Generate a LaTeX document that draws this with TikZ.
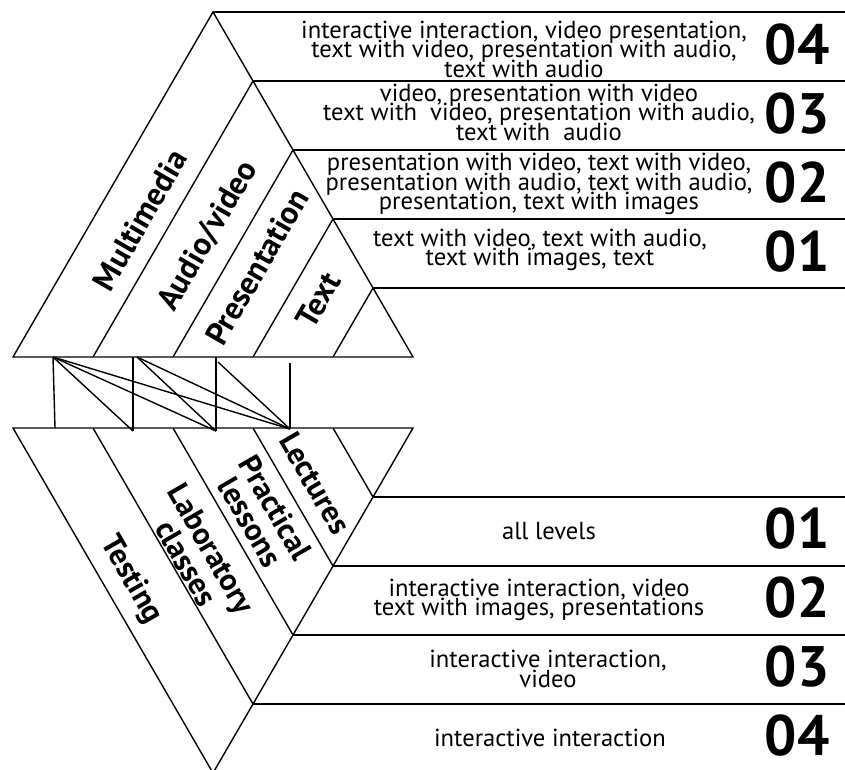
\documentclass[tikz,border=0pt]{standalone}
\usepackage{fontspec}
\setmainfont{PT Sans}
\begin{document}
\setlength{\lineskiplimit}{-100pt}%
\begin{tikzpicture}[x=1pt,y=-1pt,line width=1.4pt,line join=miter,
  bandtxt/.style={font=\fontsize{24.6}{19.5}\selectfont, align=center, inner sep=0pt},
  numtxt/.style={font=\bfseries\fontsize{57}{57}\selectfont, inner sep=0pt, anchor=west},
  toplab/.style={font=\bfseries\fontsize{32}{29}\selectfont, align=center, rotate=60, inner sep=0pt},
  botlab/.style={font=\bfseries\fontsize{31}{29}\selectfont, align=center, rotate=-60, inner sep=0pt}]
\useasboundingbox (0,0) rectangle (845,769);

% ---------- top triangle ----------
\coordinate (TA) at (213,12);
\coordinate (TL) at (13,357);
\coordinate (TR) at (413,357);
\draw (TL) -- (TA) -- (TR) -- cycle;
\foreach \k in {1,...,4}{
  \coordinate (TB\k) at ({13+80*\k},357);
  \coordinate (TE\k) at ({213+40*\k},{12+69*\k});
  \coordinate (TX\k) at (845,{12+69*\k});
  \draw (TB\k) -- (TE\k);
  \draw (TE\k) -- (TX\k);
}
\coordinate (TX0) at (845,12);
\draw (TA) -- (TX0);

% ---------- bottom triangle ----------
\coordinate (BA) at (213,773);
\coordinate (BL) at (13,428);
\coordinate (BR) at (413,428);
\draw (BL) -- (BA) -- (BR) -- cycle;
\foreach \k in {1,...,4}{
  \coordinate (BB\k) at ({13+80*\k},428);
  \coordinate (BE\k) at ({213+40*\k},{428+69*(5-\k)});
  \coordinate (BX\k) at (845,{428+69*(5-\k)});
  \draw (BB\k) -- (BE\k);
  \draw (BE\k) -- (BX\k);
}

% ---------- labels in triangles ----------
\node[toplab] (mm) at (140,220) {Multimedia};
\node[toplab] (av) at (208,236) {Audio/video};
\node[toplab] (pr) at (257,267) {Presentation};
\node[toplab] (tx) at (318,300) {Text};

\node[botlab] (le) at (315,483) {Lectures};
\node[botlab] (pl) at (263,515) {Practical\\lessons};
\node[botlab] (lc) at (199,556) {Laboratory\\classes};
\node[botlab] (te) at (131,580) {Testing};

% ---------- connectors ----------
\coordinate (u1) at (53,357);
\coordinate (u2) at (133,357);
\coordinate (u2b) at (137,357);
\coordinate (u3) at (216,357);
\coordinate (u3b) at (218,362);
\coordinate (u4) at (290,363);
\coordinate (d1) at (55,428);
\coordinate (d2) at (133,431);
\coordinate (d3) at (216,431);
\coordinate (d4) at (290,429);
\draw (u1) -- (d1);
\draw (u1) -- (d2);
\draw (u1) -- (d3);
\draw (u1) -- (d4);
\draw (u2) -- (d2);
\draw (u2b) -- (d3);
\draw (u2b) -- (d4);
\draw (u3) -- (d3);
\draw (u3b) -- (d4);
\draw (u4) -- (d4);

% ---------- top band texts ----------
\node[bandtxt] (t4) at (524,49) {interactive interaction, video presentation,\\text with video, presentation with audio,\\text with audio};
\node[bandtxt] (t3) at (539,112) {video, presentation with video\\text with~ video, presentation with audio,\\text with~ audio};
\node[bandtxt] (t2) at (539,184) {presentation with video, text with video,\\presentation with audio, text with audio,\\presentation, text with images};
\node[bandtxt] (t1) at (540,250) {text with video, text with audio,\\text with images, text};

\node[numtxt] (n4) at (764,45) {04};
\node[numtxt] (n3) at (764,114) {03};
\node[numtxt] (n2) at (764,183) {02};
\node[numtxt] (n1) at (764,252) {01};

% ---------- bottom band texts ----------
\node[bandtxt] (b1) at (549,531) {all levels};
\node[bandtxt] (b2) at (539,600) {interactive interaction, video\\text with images, presentations};
\node[bandtxt] (b3) at (548,669) {interactive interaction,\\video};
\node[bandtxt] (b4) at (550,738) {interactive interaction};

\node[numtxt] (m1) at (764,529) {01};
\node[numtxt] (m2) at (764,598) {02};
\node[numtxt] (m3) at (764,667) {03};
\node[numtxt] (m4) at (764,736) {04};
\end{tikzpicture}
\end{document}
